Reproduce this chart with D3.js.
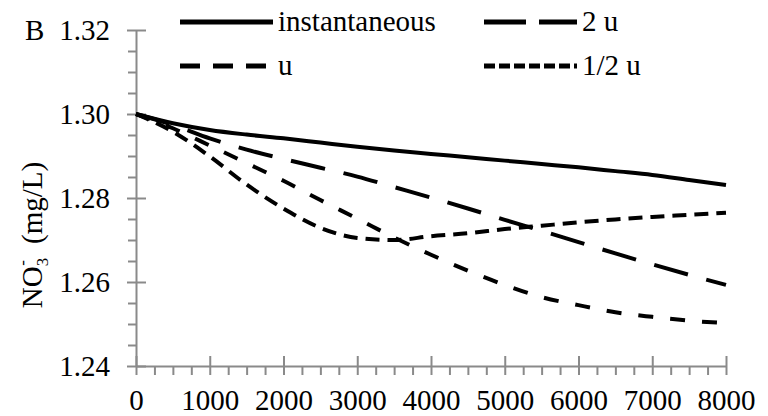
<!DOCTYPE html>
<html>
<head>
<meta charset="utf-8">
<script src="https://cdn.jsdelivr.net/npm/d3@7"></script>
<style>
  html, body { margin: 0; padding: 0; background: #fff; }
  svg { display: block; font-family: "Liberation Serif", "Times New Roman", serif; }
</style>
</head>
<body>
<svg id="chart" width="768" height="416"></svg>
<script>
// Time axis (x) and nitrate concentration (mg/L) for each release scenario
const times = [0, 500, 1000, 1500, 2000, 2500, 3000, 3500, 4000, 4500, 5000, 5500, 6000, 6500, 7000, 7500, 8000];
const instantaneous = [1.3000, 1.2978, 1.2962, 1.2951, 1.2942, 1.2932, 1.2922, 1.2913, 1.2905, 1.2897, 1.2889, 1.2881, 1.2873, 1.2864, 1.2855, 1.2843, 1.2831];
const twoU   = [1.3000, 1.2974, 1.2942, 1.2915, 1.2893, 1.2872, 1.2851, 1.2826, 1.2801, 1.2775, 1.2748, 1.2722, 1.2695, 1.2668, 1.2642, 1.2617, 1.2593];
const oneU   = [1.3000, 1.2966, 1.2925, 1.2883, 1.2841, 1.2795, 1.2751, 1.2706, 1.2665, 1.2627, 1.2593, 1.2564, 1.2545, 1.2528, 1.2517, 1.2508, 1.2502];
const halfU  = [1.3000, 1.2958, 1.2899, 1.2832, 1.2775, 1.2729, 1.2705, 1.2700, 1.2709, 1.2716, 1.2726, 1.2734, 1.2742, 1.2749, 1.2755, 1.2760, 1.2765];

const seriesNames = ["instantaneous", "2 u", "u", "1/2 u"];
const seriesValues = [instantaneous, twoU, oneU, halfU];
const seriesDash = [null, "35,19", "15,17", "14,8"];
const legendDash = [null, "42,13", "20,13", "11,4"];

const xTicks = [0, 1000, 2000, 3000, 4000, 5000, 6000, 7000, 8000];
const xMinor = d3.range(0, 8001, 250).filter(v => v % 1000 !== 0);
const yTicks = [1.24, 1.26, 1.28, 1.30, 1.32];
const yMinor = d3.range(0, 17).map(i => +(1.24 + i * 0.005).toFixed(3)).filter(v => !yTicks.includes(v));

const svg = d3.select("#chart");
const axisColor = "#8a8a8a";
const fontSize = 29;

const x = d3.scaleLinear().domain([0, 8000]).range([136, 726]);
const y = d3.scaleLinear().domain([1.24, 1.32]).range([366, 30]);

// Minor ticks (outside only)
svg.append("g")
  .attr("transform", `translate(${x(0)},0)`)
  .call(d3.axisLeft(y).tickValues(yMinor).tickSize(8).tickFormat(""))
  .call(g => g.select(".domain").remove())
  .call(g => g.selectAll("line").attr("stroke", axisColor).attr("stroke-width", 2));

svg.append("g")
  .attr("transform", `translate(0,${y(1.24)})`)
  .call(d3.axisBottom(x).tickValues(xMinor).tickSize(9).tickFormat(""))
  .call(g => g.select(".domain").remove())
  .call(g => g.selectAll("line").attr("stroke", axisColor).attr("stroke-width", 2));

// Major y axis, ticks crossing the axis line
svg.append("g")
  .attr("transform", `translate(${x(0)},0)`)
  .call(d3.axisLeft(y).tickValues(yTicks).tickFormat(d3.format(".2f")).tickSizeInner(9).tickSizeOuter(0).tickPadding(17))
  .call(g => g.select(".domain").attr("stroke", axisColor).attr("stroke-width", 2))
  .call(g => g.selectAll(".tick line").attr("x1", 10).attr("stroke", axisColor).attr("stroke-width", 2))
  .call(g => g.selectAll("text").attr("fill", "#000").attr("font-size", fontSize).attr("font-family", "Liberation Serif"));

// Major x axis
svg.append("g")
  .attr("transform", `translate(0,${y(1.24)})`)
  .call(d3.axisBottom(x).tickValues(xTicks).tickFormat(d3.format("d")).tickSizeInner(9).tickSizeOuter(0).tickPadding(14))
  .call(g => g.select(".domain").attr("stroke", axisColor).attr("stroke-width", 2))
  .call(g => g.selectAll(".tick line").attr("y1", -10).attr("stroke", axisColor).attr("stroke-width", 2))
  .call(g => g.selectAll("text").attr("fill", "#000").attr("font-size", fontSize).attr("font-family", "Liberation Serif"));

// Panel letter
svg.append("text").attr("x", 25).attr("y", 40)
  .attr("font-size", fontSize).attr("fill", "#000").text("B");

// Y axis title: NO3- (mg/L)
const yTitle = svg.append("text")
  .attr("transform", `translate(42,235) rotate(-90)`)
  .attr("text-anchor", "middle")
  .attr("font-size", fontSize)
  .attr("fill", "#000");
yTitle.append("tspan").text("NO");
yTitle.append("tspan").attr("font-size", 17).attr("dy", 6).text("3");
yTitle.append("tspan").attr("font-size", 17).attr("dx", -8).attr("dy", -20).text("-");
yTitle.append("tspan").attr("dx", 9).attr("dy", 14).text("\u00a0(mg/L)");

// Curves
const line = d3.line()
  .x((d, i) => x(times[i]))
  .y(d => y(d))
  .curve(d3.curveMonotoneX);

seriesValues.forEach((vals, k) => {
  svg.append("path")
    .datum(vals)
    .attr("d", line)
    .attr("fill", "none")
    .attr("stroke", "#000")
    .attr("stroke-width", 4)
    .attr("stroke-dasharray", seriesDash[k]);
});

// Legend (two columns, two rows)
const legendPos = [
  { lx: 180, ly: 22 },
  { lx: 484, ly: 22 },
  { lx: 180, ly: 66 },
  { lx: 484, ly: 66 }
];
seriesNames.forEach((name, k) => {
  const p = legendPos[k];
  const g = svg.append("g");
  g.append("line")
    .attr("x1", p.lx).attr("x2", p.lx + 93)
    .attr("y1", p.ly).attr("y2", p.ly)
    .attr("stroke", "#000").attr("stroke-width", 5)
    .attr("stroke-dasharray", legendDash[k]);
  g.append("text")
    .attr("x", p.lx + 98).attr("y", p.ly + 9)
    .attr("font-size", fontSize).attr("fill", "#000")
    .text(name);
});
</script>
</body>
</html>
